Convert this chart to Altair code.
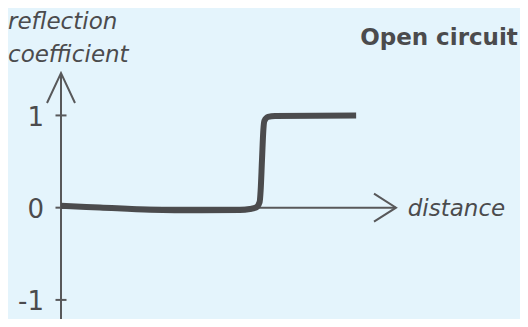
import altair as alt
import pandas as pd

# curve: distance (arbitrary units) vs reflection coefficient
dist = [0.0, 1.16, 2.66, 4.15, 5.34, 5.64, 5.82, 5.93, 5.96, 6.0, 6.04, 6.07, 6.18, 6.39, 8.81]
refl = [0.02, 0.002, -0.022, -0.028, -0.025, -0.014, 0.002, 0.062, 0.19, 0.52, 0.84, 0.94, 0.985, 0.995, 1.0]

tick_vals = [1, 0, -1]
tick_text = ["1", "0", "-1"]

x_max = 10.0
y_min, y_max = -1.207, 1.46
y_axis_bottom = -1.25

ink = "#4b4b4d"
axis_ink = "#58585a"
bg = "#e4f4fc"
font = "DejaVu Sans"

xs = alt.Scale(domain=[0, x_max], nice=False, zero=False)
ys = alt.Scale(domain=[y_min, y_max], nice=False, zero=False)

curve_df = pd.DataFrame({"d": dist, "r": refl})
ticks_df = pd.DataFrame({"v": tick_vals, "t": tick_text, "x": [0] * len(tick_vals)})
xaxis_df = pd.DataFrame({"x": [0], "x2": [x_max], "y": [0]})
yaxis_df = pd.DataFrame({"x": [0], "y": [y_axis_bottom], "y2": [y_max]})
yarrow_df = pd.DataFrame({"x": [0], "y": [y_max]})
xarrow_df = pd.DataFrame({"x": [x_max], "y": [0]})

X = lambda f: alt.X(f, type="quantitative", scale=xs, axis=None)
Y = lambda f: alt.Y(f, type="quantitative", scale=ys, axis=None)

xaxis = alt.Chart(xaxis_df).mark_rule(color=axis_ink, strokeWidth=2).encode(
    x=X("x"), x2="x2", y=Y("y"))
yaxis = alt.Chart(yaxis_df).mark_rule(color=axis_ink, strokeWidth=2).encode(
    x=X("x"), y=Y("y"), y2="y2")
yarrow = alt.Chart(yarrow_df).mark_point(
    shape="M-14,30L0,0L14,30", size=4, filled=False, strokeWidth=2,
    color=axis_ink, opacity=1).encode(x=X("x"), y=Y("y"))
xarrow = alt.Chart(xarrow_df).mark_point(
    shape="M-22,-14L0,0L-22,14", size=4, filled=False, strokeWidth=2,
    color=axis_ink, opacity=1).encode(x=X("x"), y=Y("y"))
ticks = alt.Chart(ticks_df).mark_tick(
    orient="horizontal", size=11, thickness=2, color=axis_ink, opacity=1).encode(
    x=X("x"), y=Y("v"))
tick_labels = alt.Chart(ticks_df).mark_text(
    align="right", baseline="alphabetic", dx=-17, dy=10.5,
    font=font, fontSize=26, color=ink).encode(x=X("x"), y=Y("v"), text="t")

curve = alt.Chart(curve_df).mark_line(
    color=ink, strokeWidth=6, interpolate="monotone", strokeCap="butt").encode(
    x=X("d"), y=Y("r"))

def label(txt, x, y, align, style="italic", weight="normal", size=23):
    return alt.Chart(pd.DataFrame({"t": [txt]})).mark_text(
        align=align, baseline="alphabetic", font=font, fontSize=size,
        fontStyle=style, fontWeight=weight, color=ink).encode(
        x=alt.value(x), y=alt.value(y), text="t")

t1 = label("reflection", -53, -43.7, "left")
t2 = label("coefficient", -53, -11.3, "left")
t3 = label("Open circuit", 378, -28, "center", style="normal", weight="bold")
t4 = label("distance", 395.5, 142.7, "center")

chart = alt.layer(xaxis, yaxis, yarrow, xarrow, ticks, tick_labels, curve,
                  t1, t2, t3, t4).properties(
    width=335, height=246,
    padding={"left": 53, "top": 65, "right": 124, "bottom": 0},
    autosize="none",
).configure(background=bg).configure_view(stroke=None)

chart.save("out.html", embed_options={"renderer": "svg", "actions": False})
